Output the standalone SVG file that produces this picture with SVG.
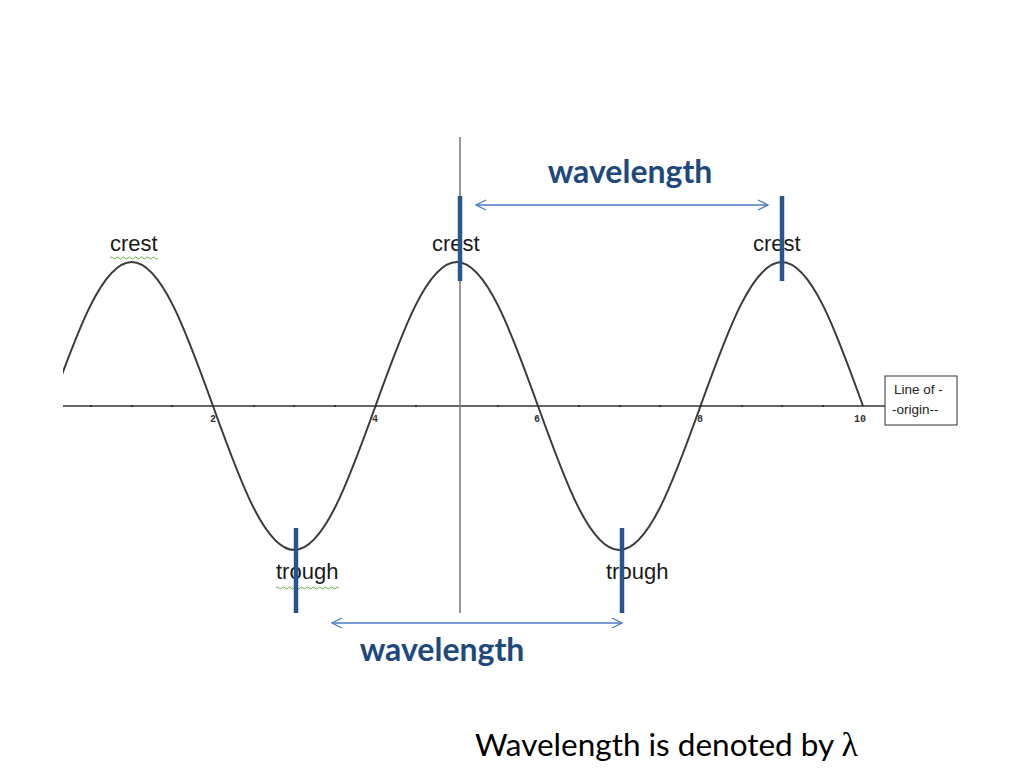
<svg xmlns="http://www.w3.org/2000/svg" width="1024" height="768" viewBox="0 0 1024 768">
<defs>
<style>
.lbl{font-family:"Liberation Sans",Arial,sans-serif;font-size:22px;fill:#1a1a1a}
.wl{font-family:Lato,"Open Sans",sans-serif;font-size:32px;font-weight:bold;fill:#1F497D}
.tick{font-family:"Liberation Mono",monospace;font-size:10px;font-weight:bold;fill:#333}
.bar{stroke:#27568C;stroke-width:4.5}
.arr{stroke:#4A7CC0;stroke-width:1.3;fill:none}
.squig{stroke:#5FAF3F;stroke-width:1;fill:none}
</style>
<marker id="ah" viewBox="0 0 12 12" refX="11" refY="6" markerWidth="12" markerHeight="12" markerUnits="userSpaceOnUse" orient="auto-start-reverse">
<path d="M1,1 L11,6 L1,11" fill="none" stroke="#4A7CC0" stroke-width="1.3"/>
</marker>
<clipPath id="clip"><rect x="63" y="0" width="900" height="768"/></clipPath>
</defs>
<rect width="1024" height="768" fill="#fff"/>
<g id="axes">
<line x1="63" y1="406" x2="885" y2="406" stroke="#666" stroke-width="2"/>
<line x1="460" y1="137" x2="460" y2="613" stroke="#777" stroke-width="1.5"/>
<g fill="#333">
<rect x="90" y="405" width="2" height="2"/><rect x="131" y="405" width="2" height="2"/><rect x="171" y="405" width="2" height="2"/><rect x="212" y="405" width="2" height="2"/><rect x="253" y="405" width="2" height="2"/><rect x="293" y="405" width="2" height="2"/><rect x="334" y="405" width="2" height="2"/><rect x="375" y="405" width="2" height="2"/><rect x="415" y="405" width="2" height="2"/><rect x="497" y="405" width="2" height="2"/><rect x="537" y="405" width="2" height="2"/><rect x="578" y="405" width="2" height="2"/><rect x="619" y="405" width="2" height="2"/><rect x="659" y="405" width="2" height="2"/><rect x="700" y="405" width="2" height="2"/><rect x="741" y="405" width="2" height="2"/><rect x="781" y="405" width="2" height="2"/><rect x="822" y="405" width="2" height="2"/>
</g>
<text class="tick" x="210" y="422">2</text>
<text class="tick" x="372" y="422">4</text>
<text class="tick" x="534" y="422">6</text>
<text class="tick" x="697" y="422">8</text>
<text class="tick" x="854" y="422">10</text>
</g>
<g id="wave">
<path clip-path="url(#clip)" fill="none" stroke="#3a3a3a" stroke-width="2" d="M50.5,406 C77,332.23 102.35,262 131.75,262 C161.15,262 186.5,332.23 213,406 C239.5,479.77 264.85,550 294.25,550 C323.65,550 349,479.77 375.5,406 C402,332.23 427.35,262 456.75,262 C486.15,262 511.5,332.23 538,406 C564.5,479.77 589.85,550 619.25,550 C648.65,550 674,479.77 700.5,406 C727,332.23 752.35,262 781.75,262 C811.15,262 836.5,332.23 863,406"/>
</g>
<g id="origin-box">
<rect x="885" y="376" width="72" height="49" fill="#fff" stroke="#333" stroke-width="1"/>
<text x="894" y="394" font-family="Liberation Sans,Arial,sans-serif" font-size="13.5" fill="#222">Line of -</text>
<text x="892" y="414" font-family="Liberation Sans,Arial,sans-serif" font-size="13.5" fill="#222">-origin--</text>
</g>
<g id="labels">
<text class="lbl" x="110" y="251">crest</text>
<path class="squig" d="M110,258 q1.5,-2 3,0 t3,0 t3,0 t3,0 t3,0 t3,0 t3,0 t3,0 t3,0 t3,0 t3,0 t3,0 t3,0 t3,0 t3,0 t3,0"/>
<text class="lbl" x="432" y="251">crest</text>
<text class="lbl" x="753" y="251">crest</text>
<text class="lbl" x="276" y="579">trough</text>
<path class="squig" d="M276,588 q1.5,-2 3,0 t3,0 t3,0 t3,0 t3,0 t3,0 t3,0 t3,0 t3,0 t3,0 t3,0 t3,0 t3,0 t3,0 t3,0 t3,0 t3,0 t3,0 t3,0 t3,0 t3,0"/>
<text class="lbl" x="606" y="579">trough</text>
</g>
<g id="markers">
<line class="bar" x1="460" y1="196" x2="460" y2="281"/>
<line class="bar" x1="782" y1="196" x2="782" y2="281"/>
<line class="bar" x1="296" y1="528" x2="296" y2="613"/>
<line class="bar" x1="622" y1="528" x2="622" y2="613"/>
</g>
<g id="connectors">
<line class="arr" x1="476" y1="205" x2="768" y2="205" marker-start="url(#ah)" marker-end="url(#ah)"/>
<line class="arr" x1="332" y1="623" x2="622" y2="623" marker-start="url(#ah)" marker-end="url(#ah)"/>
</g>
<g id="titles">
<text class="wl" x="630" y="183" text-anchor="middle">wavelength</text>
<text class="wl" x="442" y="661" text-anchor="middle">wavelength</text>
<text x="475" y="756" font-family="Lato,'Open Sans',sans-serif" font-size="31.5" fill="#000">Wavelength is denoted by <tspan font-family="'Liberation Serif',serif" font-size="34">λ</tspan></text>
</g>
</svg>
